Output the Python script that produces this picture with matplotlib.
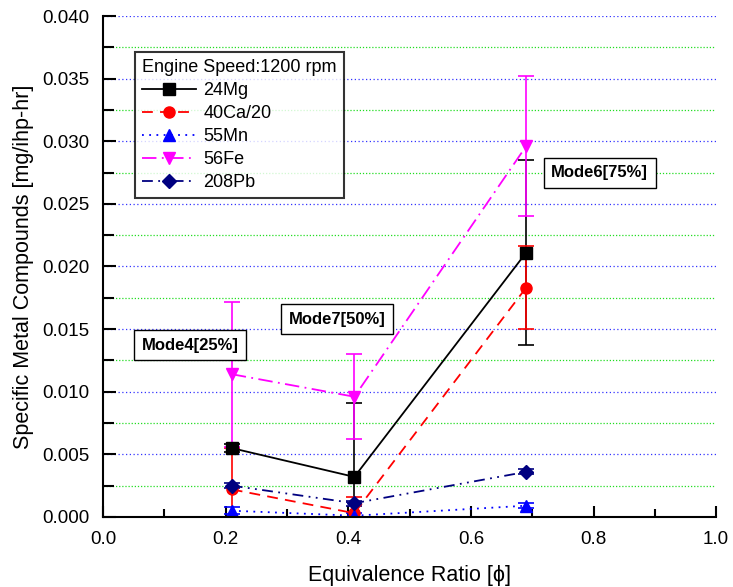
import numpy as np
import matplotlib.pyplot as plt
from matplotlib.lines import Line2D
from matplotlib.ticker import MultipleLocator, FormatStrFormatter

plt.rcParams['font.family'] = ['Liberation Sans', 'DejaVu Sans']

phi = [0.21, 0.41, 0.69]

mg = [0.0055, 0.0032, 0.0211]
mg_err = [0.0003, 0.0059, 0.0074]
ca = [0.0022, 0.0003, 0.0183]
ca_err = [0.0033, 0.0013, 0.0033]
mn = [0.0005, 0.0001, 0.0009]
mn_err = [0.0003, 0.0002, 0.0002]
fe = [0.0114, 0.0096, 0.0296]
fe_err = [0.0058, 0.0034, 0.0056]
pb = [0.0025, 0.0011, 0.0036]
pb_err = [0.0002, 0.0002, 0.0002]

labels = ['24Mg', '40Ca/20', '55Mn', '56Fe', '208Pb']
modes = ['Mode4[25%]', 'Mode7[50%]', 'Mode6[75%]']

fig = plt.figure(figsize=(7.33, 5.87), dpi=100)
ax = fig.add_axes([0.1405, 0.1193, 0.8365, 0.8534])

# grid: blue on major, green on minor
for v in np.arange(0.005, 0.0401, 0.005):
    ax.axhline(v, color='#3333ff', linestyle=(0, (1, 2)), linewidth=0.9, zorder=0)
for v in np.arange(0.0025, 0.0401, 0.005):
    ax.axhline(v, color='#22dd22', linestyle=(0, (1, 1.5)), linewidth=0.9, zorder=0)

series = [
    (mg, mg_err, 'black', '-', 's'),
    (ca, ca_err, 'red', (0, (6, 4)), 'o'),
    (mn, mn_err, 'blue', (0, (1, 3)), '^'),
    (fe, fe_err, 'magenta', (0, (8, 3, 1, 3)), 'v'),
    (pb, pb_err, '#000080', (0, (6, 3, 1, 3, 1, 3)), 'D'),
]

handles = []
for (y, e, c, ls, m), lab in zip(series, labels):
    ms = 8 if m != 'D' else 7
    ax.errorbar(phi, y, yerr=e, color=c, linestyle=ls, marker=m,
                markersize=ms, linewidth=1.3,
                elinewidth=1.2, capsize=6, capthick=1.2)
    handles.append(Line2D([], [], color=c, linestyle=ls, marker=m,
                          markersize=ms, linewidth=1.3, label=lab))

box = dict(boxstyle='square,pad=0.45', facecolor='white', edgecolor='black', linewidth=1.0)
ax.text(0.142, 0.0137, modes[0], ha='center', va='center', fontsize=12, fontweight='bold', bbox=box)
ax.text(0.382, 0.0158, modes[1], ha='center', va='center', fontsize=12, fontweight='bold', bbox=box)
ax.text(0.81, 0.0275, modes[2], ha='center', va='center', fontsize=12, fontweight='bold', bbox=box)

ax.set_xlim(0.0, 1.0)
ax.set_ylim(0.0, 0.040)
ax.xaxis.set_major_locator(MultipleLocator(0.2))
ax.xaxis.set_minor_locator(MultipleLocator(0.1))
ax.yaxis.set_major_locator(MultipleLocator(0.005))
ax.yaxis.set_minor_locator(MultipleLocator(0.0025))
ax.xaxis.set_major_formatter(FormatStrFormatter('%.1f'))
ax.yaxis.set_major_formatter(FormatStrFormatter('%.3f'))
ax.tick_params(axis='x', which='major', direction='in', length=8, width=1.5, labelsize=13.5, pad=10)
ax.tick_params(axis='x', which='minor', direction='in', length=6, width=1.5)
ax.tick_params(axis='y', which='major', direction='in', length=9, width=1.5, labelsize=13.5, pad=10)
ax.tick_params(axis='y', which='minor', direction='in', length=8, width=1.5)
for s in ['top', 'right']:
    ax.spines[s].set_visible(False)
for s in ['left', 'bottom']:
    ax.spines[s].set_linewidth(1.5)

ax.set_xlabel('Equivalence Ratio [\u03d5]', fontsize=15.5, labelpad=12)
ax.set_ylabel('Specific Metal Compounds [mg/ihp-hr]', fontsize=15.5, labelpad=6)

leg = ax.legend(handles=handles, title='Engine Speed:1200 rpm', loc='upper left',
                bbox_to_anchor=(0.052, 0.928), fontsize=13, title_fontsize=13,
                frameon=True, fancybox=False, edgecolor='black',
                handlelength=3.0, handletextpad=0.4, borderpad=0.4,
                labelspacing=0.33, borderaxespad=0)
leg.get_frame().set_linewidth(1.5)
leg._legend_box.align = 'left'

fig.savefig('out.png', dpi=100)
